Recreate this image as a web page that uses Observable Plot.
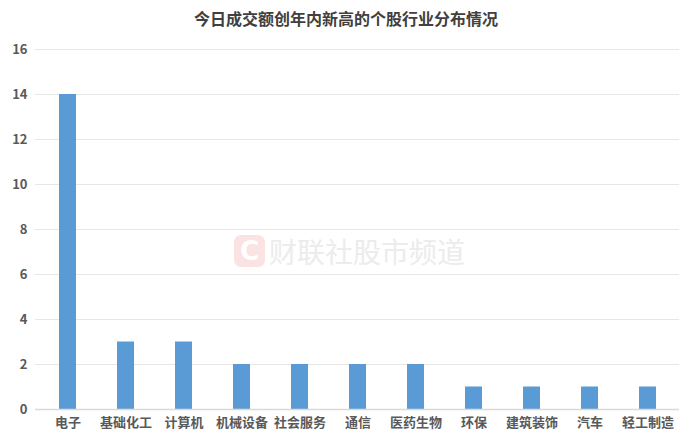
<!DOCTYPE html>
<html><head><meta charset="utf-8">
<script src="https://cdn.jsdelivr.net/npm/d3@7"></script>
<script src="https://cdn.jsdelivr.net/npm/@observablehq/plot@0.6"></script>
<style>
body{margin:0;background:#fff;font-family:"Noto Sans CJK SC","Noto Sans",sans-serif;}
#wrap{position:relative;width:692px;height:444px;overflow:hidden;}
#title{height:36px;line-height:36px;text-align:center;font-size:16px;font-weight:bold;color:#404040;}
#wm{position:absolute;left:234px;top:235px;display:flex;align-items:center;pointer-events:none;}
#logo{width:31px;height:32px;border-radius:7px;background:#fbe3e3;color:#fff;font-weight:bold;font-size:26px;line-height:32px;text-align:center;font-family:"DejaVu Sans",sans-serif;}
#wmt{margin-left:4px;font-size:28px;color:#ececec;letter-spacing:0px;line-height:32px;}
</style></head>
<body>
<div id="wrap">
<div id="title">今日成交额创年内新高的个股行业分布情况</div>
<div id="chart"></div>
<div id="wm"><div id="logo">C</div><div id="wmt">财联社股市频道</div></div>
</div>
<script>
const categories = ["电子","基础化工","计算机","机械设备","社会服务","通信","医药生物","环保","建筑装饰","汽车","轻工制造"];
const counts = [14,3,3,2,2,2,2,1,1,1,1];
const yTicks = [0,2,4,6,8,10,12,14,16];
const data = categories.map((c,i)=>({industry:c, count:counts[i]}));

const chart = Plot.plot({
  width: 692,
  height: 408,
  marginTop: 13,
  marginBottom: 35,
  marginLeft: 35,
  marginRight: 13,
  style: {fontFamily: '"Noto Sans CJK SC","Noto Sans",sans-serif', fontSize: "13px", fontWeight: "bold", color: "#595959"},
  x: {domain: categories, paddingInner: 0.71, paddingOuter: 0.35, label: null, tickSize: 0, tickPadding: 8},
  y: {domain: [0,16], ticks: yTicks, label: null, tickSize: 0, tickPadding: 8},
  marks: [
    Plot.gridY(yTicks.filter(d=>d>0), {stroke: "#e6e6e6", strokeOpacity: 1, strokeWidth: 1}),
    Plot.barY(data, {x: "industry", y: "count", fill: "#5b9bd5"}),
    Plot.ruleY([0], {stroke: "#d9d9d9", strokeWidth: 1.5})
  ]
});
document.getElementById("chart").appendChild(chart);
</script>
</body></html>
